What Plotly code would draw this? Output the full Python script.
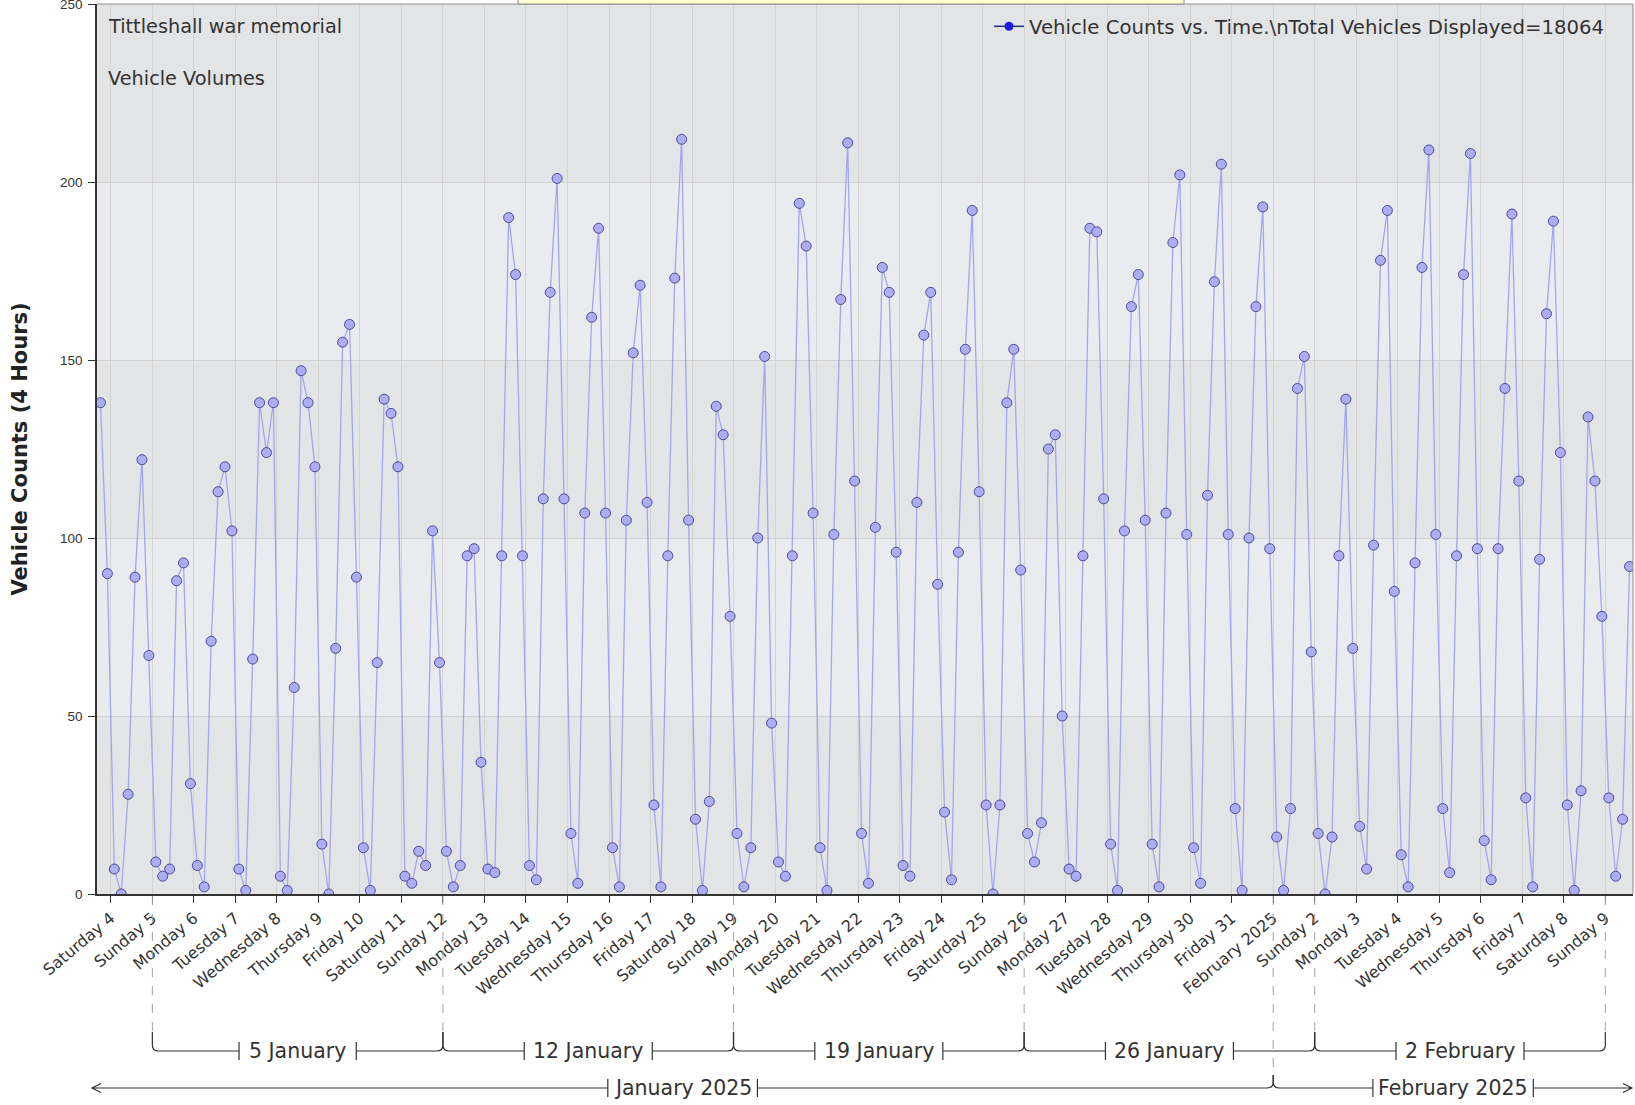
import pandas as pd
import plotly.graph_objects as go

# ---------------- data ----------------
values = [
    138, 90,
    7, 0, 28, 89, 122, 67,
    9, 5, 7, 88, 93, 31,
    8, 2, 71, 113, 120, 102,
    7, 1, 66, 138, 124, 138,
    5, 1, 58, 147, 138, 120,
    14, 0, 69, 155, 160, 89,
    13, 1, 65, 139, 135, 120,
    5, 3, 12, 8, 102, 65,
    12, 2, 8, 95, 97, 37,
    7, 6, 95, 190, 174, 95,
    8, 4, 111, 169, 201, 111,
    17, 3, 107, 162, 187, 107,
    13, 2, 105, 152, 171, 110,
    25, 2, 95, 173, 212, 105,
    21, 1, 26, 137, 129, 78,
    17, 2, 13, 100, 151, 48,
    9, 5, 95, 194, 182, 107,
    13, 1, 101, 167, 211, 116,
    17, 3, 103, 176, 169, 96,
    8, 5, 110, 157, 169, 87,
    23, 4, 96, 153, 192, 113,
    25, 0, 25, 138, 153, 91,
    17, 9, 20, 125, 129, 50,
    7, 5, 95, 187, 186, 111,
    14, 1, 102, 165, 174, 105,
    14, 2, 107, 183, 202, 101,
    13, 3, 112, 172, 205, 101,
    24, 1, 100, 165, 193, 97,
    16, 1, 24, 142, 151, 68,
    17, 0, 16, 95, 139, 69,
    19, 7, 98, 178, 192, 85,
    11, 2, 93, 176, 209, 101,
    24, 6, 95, 174, 208, 97,
    15, 4, 97, 142, 191, 116,
    27, 2, 94, 163, 189, 124,
    25, 1, 29, 134, 116, 78,
    27, 5, 21, 92,
]
first_period_start = "2025-01-03 16:00"
range_end = "2025-02-09 16:00"

tick_labels = [
    "Saturday 4", "Sunday 5", "Monday 6", "Tuesday 7", "Wednesday 8", "Thursday 9",
    "Friday 10", "Saturday 11", "Sunday 12", "Monday 13", "Tuesday 14", "Wednesday 15",
    "Thursday 16", "Friday 17", "Saturday 18", "Sunday 19", "Monday 20", "Tuesday 21",
    "Wednesday 22", "Thursday 23", "Friday 24", "Saturday 25", "Sunday 26", "Monday 27",
    "Tuesday 28", "Wednesday 29", "Thursday 30", "Friday 31", "February 2025", "Sunday 2",
    "Monday 3", "Tuesday 4", "Wednesday 5", "Thursday 6", "Friday 7", "Saturday 8", "Sunday 9",
]
tick_dates = pd.date_range("2025-01-04", periods=len(tick_labels), freq="D")

week_starts = ["2025-01-05", "2025-01-12", "2025-01-19", "2025-01-26", "2025-02-02"]
week_labels = ["5 January", "12 January", "19 January", "26 January", "2 February"]
month_bounds = [(first_period_start, "2025-02-01"), ("2025-02-01", range_end)]
month_labels = ["January 2025", "February 2025"]

legend_name = "Vehicle Counts vs. Time.\\nTotal Vehicles Displayed=18064"
site_name = "Tittleshall war memorial"
subtitle = "Vehicle Volumes"

# period mid-points (4 hour periods)
times = pd.date_range(first_period_start, periods=len(values), freq="4h") + pd.Timedelta(hours=2)

# ---------------- geometry helpers ----------------
W_FIG, H_FIG = 1635, 1105
PL, PR, PT, PB = 97, 1633, 4, 894
PW, PH = PR - PL, PB - PT
t0, t1 = pd.Timestamp(first_period_start), pd.Timestamp(range_end)


def date_px(d):
    return PL + PW * (pd.Timestamp(d) - t0) / (t1 - t0)


def pxp(x):
    return (x - PL) / PW


def pyp(y):
    return (PB - y) / PH


def P(x, y):
    return f"{pxp(x):.5f},{pyp(y):.5f}"


FONT = "DejaVu Sans"
TXT = "#333333"
LINE = "#333333"

shapes = []
annotations = []

# alternating bands
for lo, hi in [(50, 100), (150, 200)]:
    shapes.append(dict(type="rect", xref="paper", yref="y", x0=0, x1=1, y0=lo, y1=hi,
                       fillcolor="#e9ebef", line=dict(width=0), layer="below"))

# top / right border of plot
shapes.append(dict(type="line", xref="paper", yref="paper", x0=0, x1=1, y0=1, y1=1,
                   line=dict(color="#8c8c8c", width=1)))
shapes.append(dict(type="line", xref="paper", yref="paper", x0=1, x1=1, y0=0, y1=1,
                   line=dict(color="#8c8c8c", width=1)))
# clipped yellow title box at the top
shapes.append(dict(type="rect", xref="paper", yref="paper", x0=pxp(518), x1=pxp(1184),
                   y0=pyp(4), y1=pyp(-6), fillcolor="#ffffd2", line=dict(color="#8c8c8c", width=1)))

WEEK_Y, WEEK_TOP = 1051, 1032
MONTH_Y, MONTH_TOP = 1088, 1075
R = 6
BAR = 9
CHAR_W = 10.8

# dashed guide lines
for d in week_starts + ["2025-02-09"]:
    x = date_px(d)
    shapes.append(dict(type="line", xref="paper", yref="paper", x0=pxp(x), x1=pxp(x),
                       y0=pyp(PB + 2), y1=pyp(WEEK_TOP),
                       line=dict(color="#a0a0a0", width=1, dash="dash")))
xf = date_px("2025-02-01")
shapes.append(dict(type="line", xref="paper", yref="paper", x0=pxp(xf), x1=pxp(xf),
                   y0=pyp(PB + 2), y1=pyp(MONTH_TOP),
                   line=dict(color="#a0a0a0", width=1, dash="dash")))


def bracket(xa, xb, ym, ytop, label, left_arrow=False, right_arrow=False, tip_l=None, tip_r=None):
    c = (xa + xb) / 2
    half = len(label) * CHAR_W / 2 + 10
    segs = []
    if left_arrow:
        segs.append(f"M {P(tip_l, ym)} L {P(c - half, ym)}")
        segs.append(f"M {P(tip_l + 9, ym - 4.5)} L {P(tip_l, ym)} L {P(tip_l + 9, ym + 4.5)}")
    else:
        segs.append(f"M {P(xa, ytop)} L {P(xa, ym - R)} Q {P(xa, ym)} {P(xa + R, ym)} L {P(c - half, ym)}")
    if right_arrow:
        segs.append(f"M {P(c + half, ym)} L {P(tip_r, ym)}")
        segs.append(f"M {P(tip_r - 9, ym - 4.5)} L {P(tip_r, ym)} L {P(tip_r - 9, ym + 4.5)}")
    else:
        segs.append(f"M {P(c + half, ym)} L {P(xb - R, ym)} Q {P(xb, ym)} {P(xb, ym - R)} L {P(xb, ytop)}")
    segs.append(f"M {P(c - half, ym - BAR)} L {P(c - half, ym + BAR)}")
    segs.append(f"M {P(c + half, ym - BAR)} L {P(c + half, ym + BAR)}")
    shapes.append(dict(type="path", xref="paper", yref="paper", path=" ".join(segs),
                       line=dict(color=LINE, width=1.2)))
    annotations.append(dict(xref="paper", yref="paper", x=pxp(c), y=pyp(ym), text=label,
                            showarrow=False, xanchor="center", yanchor="middle",
                            font=dict(family=FONT, size=20.5, color=TXT)))


for i, (ws, lab) in enumerate(zip(week_starts, week_labels)):
    xa = date_px(ws)
    xb = date_px(pd.Timestamp(ws) + pd.Timedelta(days=7))
    bracket(xa, xb, WEEK_Y, WEEK_TOP, lab)

# months
bracket(92, date_px(month_bounds[0][1]), MONTH_Y, MONTH_TOP, month_labels[0], left_arrow=True, tip_l=92)
bracket(date_px(month_bounds[1][0]), PR, MONTH_Y, MONTH_TOP, month_labels[1], right_arrow=True, tip_r=PR - 1)

# text in plot
annotations.append(dict(xref="paper", yref="paper", x=pxp(106), y=pyp(26), text=site_name,
                        showarrow=False, xanchor="left", yanchor="middle",
                        font=dict(family=FONT, size=19.3, color=TXT)))
annotations.append(dict(xref="paper", yref="paper", x=pxp(106), y=pyp(78), text=subtitle,
                        showarrow=False, xanchor="left", yanchor="middle",
                        font=dict(family=FONT, size=19.3, color=TXT)))

# ---------------- figure ----------------
fig = go.Figure()
fig.add_trace(go.Scatter(
    x=times, y=values, mode="lines+markers", showlegend=False,
    line=dict(color="#a4a4f2", width=1.3),
    marker=dict(size=10, color="#adadf4", line=dict(color="#4a4a9a", width=1)),
))
fig.add_trace(go.Scatter(
    x=[None], y=[None], mode="lines+markers", name=legend_name,
    line=dict(color="#25307a", width=1.5),
    marker=dict(size=9, color="#1c1ce0"),
))

fig.update_layout(
    width=W_FIG, height=H_FIG, autosize=False,
    margin=dict(l=PL, r=W_FIG - PR, t=PT, b=H_FIG - PB, pad=0),
    paper_bgcolor="white", plot_bgcolor="#e3e4e6",
    font=dict(family=FONT, color=TXT),
    shapes=shapes, annotations=annotations,
    legend=dict(x=pxp(989), y=pyp(7), xanchor="left", yanchor="top",
                bgcolor="rgba(0,0,0,0)", borderwidth=0,
                font=dict(family=FONT, size=19.7, color=TXT)),
    xaxis=dict(
        type="date", range=[t0, t1], automargin=False,
        tickmode="array", tickvals=tick_dates, ticktext=tick_labels, tickangle=-40,
        ticks="outside", ticklen=7, tickcolor="#333", tickwidth=1.2,
        tickfont=dict(family=FONT, size=16, color=TXT),
        showgrid=True, gridcolor="#d3d3d3", gridwidth=1,
        showline=True, linecolor="#333", linewidth=1.5, zeroline=False,
    ),
    yaxis=dict(
        range=[0, 250], tick0=0, dtick=50, automargin=False,
        ticks="outside", ticklen=7, tickcolor="#333", tickwidth=1.2,
        ticklabelstandoff=3, ticklabeloverflow="allow",
        tickfont=dict(family="Liberation Sans", size=13.5, color=TXT),
        showgrid=True, gridcolor="#d3d3d3", gridwidth=1,
        showline=True, linecolor="#333", linewidth=1.5, zeroline=False,
        title=dict(text="Vehicle Counts (4 Hours)", standoff=27,
                   font=dict(family=FONT, size=21, color="#222", weight="bold")),
    ),
)

fig.write_html("out.html", config={"displayModeBar": False},
               post_script="document.body.style.margin='0px';")
